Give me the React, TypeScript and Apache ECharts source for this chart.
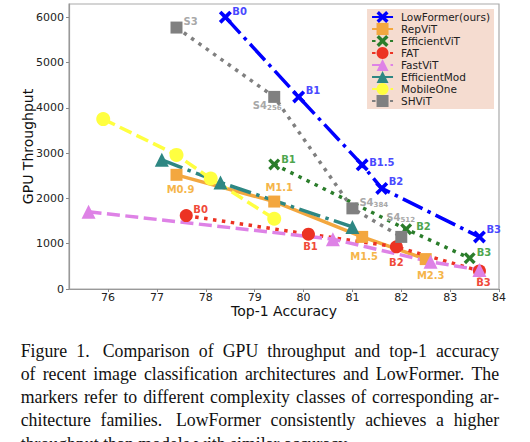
import React, { useEffect, useRef } from "react";
import * as echarts from "echarts";

// ---------- data ----------
const xTicks = [76, 77, 78, 79, 80, 81, 82, 83, 84];
const yTicks = [0, 1000, 2000, 3000, 4000, 5000, 6000];

const lowFormerAcc = [78.4, 79.9, 81.2, 81.6, 83.6];
const lowFormerTput = [6000, 4240, 2740, 2220, 1150];
const lowFormerTags = ["B0", "B1", "B1.5", "B2", "B3"];

const repVitAcc = [77.4, 79.4, 81.2, 82.5];
const repVitTput = [2520, 1930, 1150, 660];
const repVitTags = ["M0.9", "M1.1", "M1.5", "M2.3"];

const effVitAcc = [79.4, 82.1, 83.4];
const effVitTput = [2750, 1320, 680];
const effVitTags = ["B1", "B2", "B3"];

const fatAcc = [77.6, 80.1, 81.9, 83.6];
const fatTput = [1620, 1210, 930, 400];
const fatTags = ["B0", "B1", "B2", "B3"];

const fastVitAcc = [75.6, 80.6, 82.6, 83.6];
const fastVitTput = [1705, 1100, 600, 420];

const effModAcc = [77.1, 78.3, 81.0];
const effModTput = [2850, 2350, 1370];

const mobileOneAcc = [75.9, 77.4, 78.1, 79.4];
const mobileOneTput = [3750, 2960, 2440, 1550];

const shvitAcc = [77.4, 79.4, 81.0, 82.0];
const shvitTput = [5770, 4240, 1780, 1150];
const shvitTags = ["S3", "S4|256", "S4|384", "S4|512"];

// ---------- styles ----------
const X_SYMBOL = "path://M2,0L5,3L8,0L10,2L7,5L10,8L8,10L5,7L2,10L0,8L3,5L0,2Z";
const DASHDOT = [22, 5.5, 3.5, 5.5];
const DASHED = [13, 5.5];
const DOTTED = [3.5, 5.5];
const LW = 3.5;

type Place = [number, number, "left" | "center"];
const lowFormerPlace: Place[] = [[7, -6, "left"], [7, -6, "left"], [7, -2, "left"], [7, -7, "left"], [7, -7, "left"]];
const repVitPlace: Place[] = [[4, 15, "center"], [5, -14, "center"], [2, 20, "center"], [5, 16, "center"]];
const effVitPlace: Place[] = [[7, -5, "left"], [10, -3, "left"], [7, -6, "left"]];
const fatPlace: Place[] = [[7, -6, "left"], [2, 12, "center"], [0, 16, "center"], [4, 12, "center"]];
const shvitPlace: Place[] = [[7, -6, "left"], [-7, 9, "center"], [7, -6, "left"], [-15, -19, "left"]];

function mkSeries(
  name: string,
  acc: number[],
  tput: number[],
  color: string,
  symbol: string,
  symbolSize: number,
  dash: any,
  tags?: string[],
  place?: Place[],
  labelColor?: string
) {
  const data = acc.map((a, i) => {
    const item: any = { value: [a, tput[i]] };
    if (tags && place) {
      const [dx, dy, align] = place[i];
      const t = tags[i];
      const parts = t.split("|");
      item.label = {
        show: true,
        position: "inside",
        offset: [dx, dy],
        align,
        verticalAlign: "middle",
        formatter: parts.length > 1 ? `{m|${parts[0]}}{s|${parts[1]}}` : `{m|${parts[0]}}`,
      };
    }
    return item;
  });
  return {
    type: "line",
    name,
    data,
    symbol,
    symbolSize,
    showAllSymbol: true,
    color,
    itemStyle: { color, opacity: 1 },
    lineStyle: { color, width: LW, type: dash },
    label: {
      show: false,
      rich: {
        m: { fontSize: 10, fontWeight: "bold", color: labelColor, fontFamily: "DejaVu Sans", lineHeight: 12 },
        s: { fontSize: 7, fontWeight: "bold", color: labelColor, fontFamily: "DejaVu Sans", lineHeight: 12, verticalAlign: "bottom", padding: [5, 0, 0, 0] },
      },
    },
    emphasis: { disabled: true },
    z: 2,
  };
}

export default function App() {
  const ref = useRef<HTMLDivElement>(null);
  useEffect(() => {
    if (!ref.current) return;
    const chart = echarts.init(ref.current, null, { renderer: "svg" });
    const series = [
      mkSeries("LowFormer(ours)", lowFormerAcc, lowFormerTput, "#0000ff", X_SYMBOL, 13, DASHDOT, lowFormerTags, lowFormerPlace, "#4a4aff"),
      mkSeries("RepViT", repVitAcc, repVitTput, "#f3a73f", "rect", 12, "solid", repVitTags, repVitPlace, "#f5b54a"),
      mkSeries("EfficientViT", effVitAcc, effVitTput, "#2b7d2b", X_SYMBOL, 12, DOTTED, effVitTags, effVitPlace, "#4fa64f"),
      mkSeries("FAT", fatAcc, fatTput, "#ec3323", "circle", 13, DOTTED, fatTags, fatPlace, "#f04a3a"),
      mkSeries("FastViT", fastVitAcc, fastVitTput, "#de82e6", "triangle", 14, DASHED),
      mkSeries("EfficientMod", effModAcc, effModTput, "#2e8783", "triangle", 14, DASHDOT),
      mkSeries("MobileOne", mobileOneAcc, mobileOneTput, "#ffff40", "circle", 14, DASHED),
      mkSeries("SHViT", shvitAcc, shvitTput, "#808080", "rect", 12, DOTTED, shvitTags, shvitPlace, "#a8a8a8"),
    ];
    chart.setOption({
      animation: false,
      backgroundColor: "#ffffff",
      textStyle: { fontFamily: "DejaVu Sans" },
      grid: {
        left: 69,
        top: 4,
        width: 430,
        height: 285,
        show: true,
        borderColor: "#aaaaaa",
        borderWidth: 1.2,
        backgroundColor: "transparent",
        outerBoundsMode: "none",
        containLabel: false,
      },
      legend: {
        show: true,
        orient: "vertical",
        right: 36,
        top: 9,
        padding: [2, 4, 2, 4],
        itemWidth: 21,
        itemHeight: 15,
        itemGap: 0,
        backgroundColor: "#f5dcd0",
        borderWidth: 0,
        textStyle: { fontSize: 10.5, color: "#222", fontFamily: "DejaVu Sans", padding: [0, 0, 0, 3] },
        data: series.map((s) => s.name),
      },
      xAxis: {
        type: "value",
        min: 75.2,
        max: 84,
        name: "Top-1 Accuracy",
        nameLocation: "middle",
        nameGap: 15,
        nameMoveOverlap: false,
        nameTextStyle: { fontSize: 14, color: "#111", verticalAlign: "top", fontFamily: "DejaVu Sans" },
        axisLine: { show: true, onZero: false, lineStyle: { color: "#999", width: 1.2 } },
        axisTick: { show: true, customValues: xTicks, length: 3, lineStyle: { color: "#888" } },
        axisLabel: { customValues: xTicks, fontSize: 11, color: "#222", margin: 3, fontFamily: "DejaVu Sans", formatter: (v: number) => String(v) },
        splitLine: { show: false },
      },
      yAxis: {
        type: "value",
        min: 0,
        max: 6290,
        name: "GPU Throughput",
        nameLocation: "middle",
        nameGap: 34,
        nameMoveOverlap: false,
        nameTextStyle: { fontSize: 14, color: "#111", fontFamily: "DejaVu Sans" },
        axisLine: { show: true, onZero: false, lineStyle: { color: "#999", width: 1.2 } },
        axisTick: { show: true, customValues: yTicks, length: 3, lineStyle: { color: "#888" } },
        axisLabel: { customValues: yTicks, fontSize: 11, color: "#222", margin: 5, fontFamily: "DejaVu Sans", formatter: (v: number) => String(v) },
        splitLine: { show: false },
      },
      series,
    });
    return () => chart.dispose();
  }, []);

  const lineStyle: React.CSSProperties = {
    display: "flex",
    justifyContent: "space-between",
    whiteSpace: "nowrap",
    height: 23.3,
  };
  const words = (s: string) => s.split(" ").map((w, i) => <span key={i}>{w}</span>);

  return (
    <div style={{ position: "absolute", left: 0, top: 0, width: 530, height: 442, overflow: "hidden", background: "#fff" }}>
      <div ref={ref} style={{ position: "absolute", left: 0, top: 0, width: 530, height: 330 }} />
      <div
        style={{
          position: "absolute",
          left: 20.7,
          top: 339.6,
          width: 478.5,
          fontFamily: '"Liberation Serif", "Times New Roman", serif',
          fontSize: 17.8,
          lineHeight: "23.3px",
          color: "#111",
        }}
      >
        <div style={lineStyle}>
          <span>Figure</span>
          <span style={{ marginRight: 4 }}>1.</span>
          {words("Comparison of GPU throughput and top-1 accuracy")}
        </div>
        <div style={lineStyle}>{words("of recent image classification architectures and LowFormer. The")}</div>
        <div style={lineStyle}>{words("markers refer to different complexity classes of corresponding ar-")}</div>
        <div style={lineStyle}>
          <span>chitecture</span>
          <span style={{ marginRight: 4 }}>families.</span>
          {words("LowFormer consistently achieves a higher")}
        </div>
        <div style={{ whiteSpace: "nowrap", height: 23.3 }}>throughput than models with similar accuracy.</div>
      </div>
    </div>
  );
}
